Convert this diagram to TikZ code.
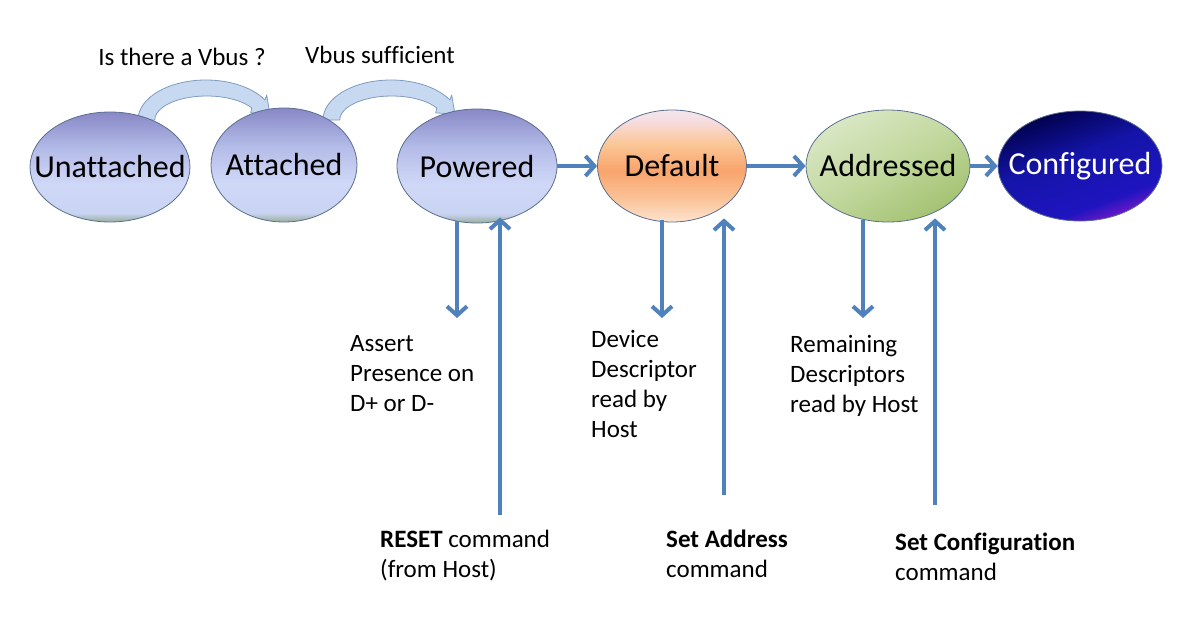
\documentclass[tikz,border=0pt]{standalone}
\usepackage{fontspec}
\setmainfont{Carlito}[Ligatures=NoCommon]
\usetikzlibrary{shapes.geometric,arrows.meta}
\newcommand\zw[1]{\makebox[0pt]{#1}}
\definecolor{arrowblue}{HTML}{4F81BD}
\definecolor{bandfill}{HTML}{C6D9F1}
\definecolor{bandline}{HTML}{7F9CC0}
\definecolor{ellline}{HTML}{5A6E8E}
\definecolor{bA}{HTML}{98AE96}\definecolor{bB}{HTML}{C9D3F2}\definecolor{bC}{HTML}{D0D8F8}\definecolor{bD}{HTML}{B4BCE8}\definecolor{bE}{HTML}{8888C6}
\definecolor{oA}{HTML}{FCE3CF}\definecolor{oB}{HTML}{FBC49A}\definecolor{oC}{HTML}{F9A46C}\definecolor{oD}{HTML}{FBC797}\definecolor{oE}{HTML}{F6DCE0}\definecolor{oF}{HTML}{F3E6EE}
\definecolor{gA}{HTML}{A4C272}\definecolor{gB}{HTML}{C2D89E}\definecolor{gC}{HTML}{D9E7C4}
\definecolor{nA}{HTML}{7A18C8}\definecolor{nB}{HTML}{1F14C0}\definecolor{nC}{HTML}{1414A8}\definecolor{nD}{HTML}{00004A}
\pgfdeclareverticalshading{blueball}{100bp}{color(0bp)=(bA); color(25bp)=(bA); color(29bp)=(bB); color(42bp)=(bC); color(58bp)=(bD); color(75bp)=(bE); color(100bp)=(bE)}
\pgfdeclareverticalshading{orangeball}{100bp}{color(0bp)=(oA); color(25bp)=(oA); color(35bp)=(oB); color(48bp)=(oC); color(60bp)=(oD); color(70bp)=(oE); color(75bp)=(oF); color(100bp)=(oF)}
\pgfdeclareverticalshading{greenball}{100bp}{color(0bp)=(gA); color(25bp)=(gA); color(50bp)=(gB); color(75bp)=(gC); color(100bp)=(gC)}
\pgfdeclareverticalshading{navyball}{100bp}{color(0bp)=(nA); color(25bp)=(nA); color(33bp)=(nB); color(55bp)=(nC); color(75bp)=(nD); color(100bp)=(nD)}
\tikzset{
  state/.style={ellipse, draw=ellline, line width=0.8pt, inner sep=0pt, font=\fontsize{32}{36}\selectfont},
  blue state/.style={state, shading=blueball},
  arr/.style={draw=arrowblue, line width=4pt, -{Straight Barb[length=9pt,width=20pt]}},
  band/.style={fill=bandfill, draw=bandline, line width=0.8pt, line join=round},
  lbl/.style={font=\fontsize{25}{30}\selectfont, align=left, inner sep=0pt},
}
\begin{document}
\begin{tikzpicture}[x=1pt,y=-1pt]
\useasboundingbox (0,0) rectangle (1184,629);
% curved block arrows (behind states)
\path[band] (138,120) arc[start angle=180,end angle=330,x radius=68,y radius=40]
  -- (266.7,95.1) -- (269.9,114) -- (250.7,112.9) -- (251.8,108)
  arc[start angle=330,end angle=180,x radius=52,y radius=24] -- cycle;
\path[band] (323,120) arc[start angle=180,end angle=330,x radius=68,y radius=40]
  -- (451.7,95.1) -- (454.9,114) -- (435.7,112.9) -- (436.8,108)
  arc[start angle=330,end angle=180,x radius=52,y radius=24] -- cycle;
% states
\node[blue state, minimum width=160pt, minimum height=110pt] (un) at (110,167) {\zw{Unattached}};
\node[blue state, minimum width=146pt, minimum height=114pt] (at) at (284,165) {\zw{Attached}};
\node[blue state, minimum width=160pt, minimum height=114pt] (pw) at (477,166) {\zw{Powered}};
\node[state, shading=orangeball, minimum width=149pt, minimum height=112pt] (df) at (672,166) {\zw{Default}};
\node[state, shading=greenball, shading angle=30, minimum width=164pt, minimum height=112pt] (ad) at (888,166) {\zw{Addressed}};
\node[state, shading=navyball, shading angle=20, text=white, minimum width=164pt, minimum height=110pt] (cf) at (1080,166) {\zw{Configured}};
% labels of curved arrows
\node[lbl, anchor=base] (l1) at (182,65) {Is there a Vbus ?};
\node[lbl, anchor=base] (l2) at (380,63) {Vbus sufficient};
% horizontal transitions
\draw[arr] (pw.east) -- (df.west);
\draw[arr] (df.east) -- (ad.west);
\draw[arr] (ad.east) -- (cf.west);
% free ends
\coordinate (pwd) at (457,318);
\coordinate (pwu) at (500,515);
\coordinate (dfd) at (662,318);
\coordinate (dfu) at (724,495);
\coordinate (add) at (863,318);
\coordinate (adu) at (935,505);
\draw[arr] (pwd |- pw.south) ++(0,-2) -- (pwd);
\draw[arr] (pwu) -- ([yshift=6pt]pwu |- pw.south);
\draw[arr] (dfd |- df.south) ++(0,-2) -- (dfd);
\draw[arr] (dfu) -- ([yshift=4pt]dfu |- df.south);
\draw[arr] (add |- ad.south) ++(0,-2) -- (add);
\draw[arr] (adu) -- ([yshift=4pt]adu |- ad.south);
% side labels
\node[lbl, anchor=north west] (t1) at (350,335) {Assert\\Presence on\\D+ or D-};
\node[lbl, anchor=north west] (t2) at (591,330) {Device\\Descriptor\\read by\\Host};
\node[lbl, anchor=north west] (t3) at (790,335) {Remaining\\Descriptors\\read by Host};
\node[lbl, anchor=north west] (t4) at (380,530) {\textbf{RESET} command\\(from Host)};
\node[lbl, anchor=north west] (t5) at (666,530) {\textbf{Set Address}\\command};
\node[lbl, anchor=north west] (t6) at (895,533) {\textbf{Set Configuration}\\command};
\end{tikzpicture}
\end{document}
